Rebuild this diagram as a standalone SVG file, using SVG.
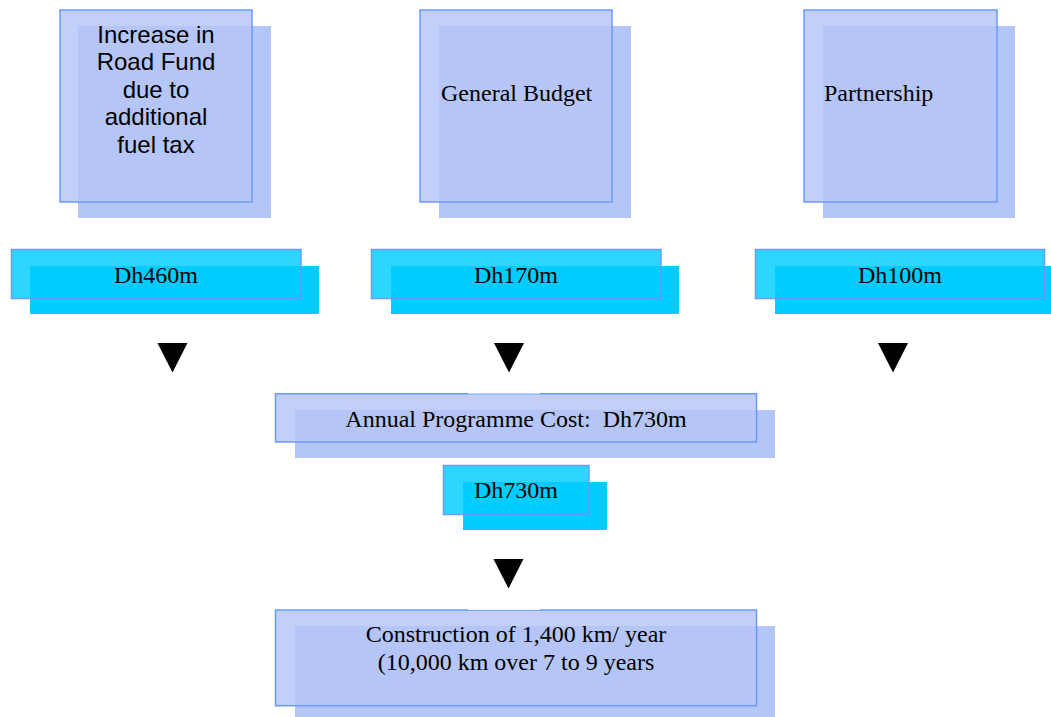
<svg xmlns="http://www.w3.org/2000/svg" width="1051" height="717" viewBox="0 0 1051 717">
<style>
.sh{fill:#B4C5F7}
.fr{fill:#B4C5F7;fill-opacity:0.82;stroke:#6B9AFF;stroke-width:1.5}
.csh{fill:#00CCFF}
.cfr{fill:#00CCFF;fill-opacity:0.82;stroke:#6B9AFF;stroke-width:1.5}
.sans{font-family:"Liberation Sans",Arial,sans-serif;font-size:24px;fill:#000;text-anchor:middle}
.serif{font-family:"Liberation Serif","Times New Roman",serif;font-size:24px;fill:#000}
.mid{text-anchor:middle}
.arr{fill:#000}
.gap{fill:#fff}
</style>
<rect width="1051" height="717" fill="#fff"/>
<g id="node-roadfund">
<rect class="sh" x="78" y="26" width="193" height="192"/>
<rect class="fr" x="60" y="10" width="192" height="192"/>
<text class="sans"><tspan x="156" y="43">Increase in</tspan><tspan x="156" y="70.4">Road Fund</tspan><tspan x="156" y="97.8">due to</tspan><tspan x="156" y="125.2">additional</tspan><tspan x="156" y="152.6">fuel tax</tspan></text>
</g>
<g id="node-budget">
<rect class="sh" x="439" y="26" width="192" height="192"/>
<rect class="fr" x="420" y="10" width="192" height="192"/>
<text class="serif" x="441" y="100.5">General Budget</text>
</g>
<g id="node-partnership">
<rect class="sh" x="823" y="26" width="192" height="192"/>
<rect class="fr" x="804" y="10" width="193" height="192"/>
<text class="serif" x="824" y="100.5">Partnership</text>
</g>
<g id="node-dh460">
<rect class="csh" x="30" y="266" width="289" height="48"/>
<rect class="cfr" x="11.5" y="249.5" width="289.5" height="49"/>
<text class="serif mid" x="156" y="283">Dh460m</text>
</g>
<g id="node-dh170">
<rect class="csh" x="391" y="266" width="288" height="48"/>
<rect class="cfr" x="371.5" y="249.5" width="289.5" height="49"/>
<text class="serif mid" x="516" y="283">Dh170m</text>
</g>
<g id="node-dh100">
<rect class="csh" x="775" y="266" width="276" height="48"/>
<rect class="cfr" x="755.5" y="249.5" width="289" height="49"/>
<text class="serif mid" x="900" y="283">Dh100m</text>
</g>
<g id="node-annual">
<rect class="sh" x="295" y="410" width="480" height="48"/>
<rect class="fr" x="275.5" y="393.7" width="481" height="48.3"/>
<text class="serif mid" x="516" y="426.5" xml:space="preserve">Annual Programme Cost:  Dh730m</text>
</g>
<g id="node-dh730">
<rect class="csh" x="463" y="482" width="144" height="48"/>
<rect class="cfr" x="443.5" y="465.5" width="145.5" height="49"/>
<text class="serif mid" x="516" y="498.3">Dh730m</text>
</g>
<g id="node-construction">
<rect class="sh" x="295" y="626" width="480" height="91"/>
<rect class="fr" x="275.5" y="610" width="481" height="95.7"/>
<text class="serif mid"><tspan x="516" y="641.7">Construction of 1,400 km/ year</tspan><tspan x="516" y="669.8">(10,000 km over 7 to 9 years</tspan></text>
</g>
<g id="connectors">
<polygon class="arr" points="157.5,343 187.5,343 172.5,372.5"/>
<polygon class="arr" points="494,343 524,343 509,372.5"/>
<polygon class="arr" points="878,343 908,343 893,372.5"/>
<polygon class="arr" points="493.5,559 523.5,559 508.5,588.5"/>
<rect class="gap" x="468" y="388" width="72" height="5.6"/>
<rect class="gap" x="468" y="604" width="72" height="5.9"/>
</g>
</svg>
